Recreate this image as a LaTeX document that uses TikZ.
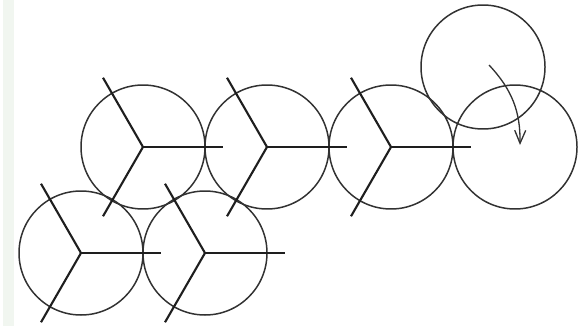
\documentclass[tikz,border=0pt]{standalone}
\definecolor{RimGray}{RGB}{50,50,50}
\definecolor{SpokeGray}{RGB}{30,30,30}
\definecolor{EdgeTint}{RGB}{241,246,240}
\usepackage{tikz}
\usetikzlibrary{arrows.meta, positioning}

\begin{document}
\begin{tikzpicture}[
        wheel/.style={draw=RimGray,circle,line width=0.85pt,
                      minimum size=2.48cm,inner sep=0pt,outer sep=0pt},
        spoke/.style={SpokeGray,line width=1.2pt},
        roll/.style={-{Straight Barb[length=2.6mm,width=2.2mm]},RimGray,line width=0.75pt}]
        \useasboundingbox (0,0) rectangle (11.58,6.52);
        \fill[EdgeTint] (0.06,0) rectangle (0.28,6.52);

        % Top row
        \node[wheel] (c1) at (2.86,3.58) {};
        \node[wheel,right=0pt of c1] (c2) {};
        \node[wheel,right=0pt of c2] (c3) {};
        \node[wheel,right=0pt of c3] (c4) {};
        % Bottom row
        \node[wheel] (b1) at (1.62,1.46) {};
        \node[wheel,right=0pt of b1] (b2) {};
        % Rolling wheel
        \node[wheel] (top) at (9.66,5.18) {};

        \foreach \w in {c1,c2,c3,b1,b2}
          \foreach \a in {0,120,240}
            \draw[spoke] (\w.center) -- ++(\a:1.6);

        \draw[roll] ([xshift=0.12cm,yshift=0.04cm]top.center)
          to[bend left=22] ([xshift=0.1cm,yshift=0.04cm]c4.center);
      \end{tikzpicture}
\end{document}
